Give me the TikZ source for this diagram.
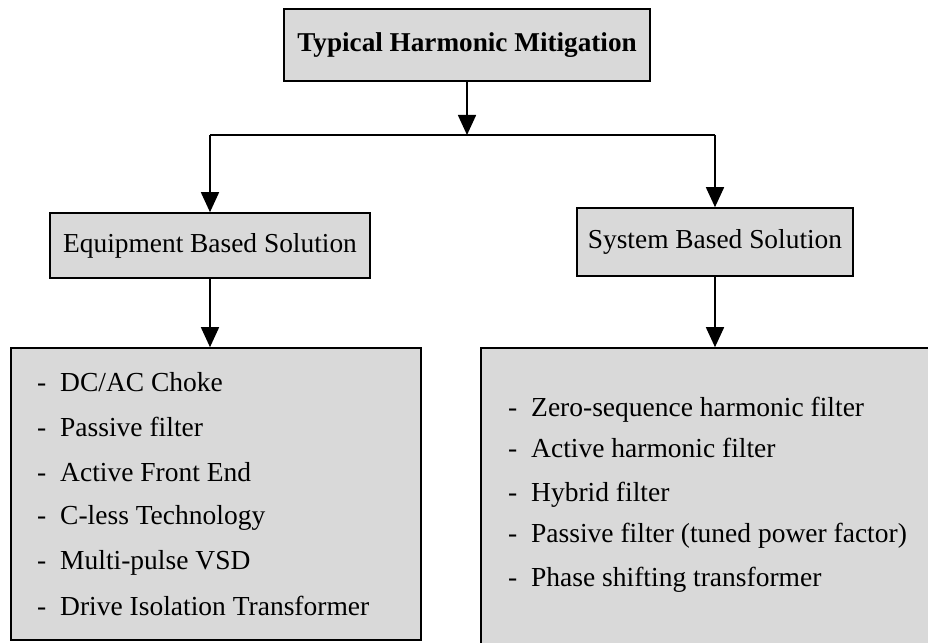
\documentclass[tikz,border=0pt]{standalone}
\usepackage{fontspec}
\setmainfont{Liberation Serif}
\usetikzlibrary{arrows.meta}
\definecolor{boxgray}{HTML}{D9D9D9}
\begin{document}
\begin{tikzpicture}[x=1pt,y=1pt,
  box/.style={draw=black, line width=1.6pt, fill=boxgray, inner sep=0pt, rectangle},
  item/.style={anchor=base west, inner sep=0pt, font=\fontsize{27.5}{33}\selectfont},
  conn/.style={line width=1.6pt, -{Triangle[width=18pt,length=20pt]}},
  plain/.style={line width=1.6pt},
]
\clip (0,0) rectangle (928,642);
\fill[white] (0,0) rectangle (928,642);
% boxes
\node[box, minimum width=366pt, minimum height=72pt, font=\bfseries\fontsize{27.2}{32}\selectfont] (top) at (467,597) {Typical Harmonic Mitigation};
\node[box, minimum width=320pt, minimum height=65pt, font=\fontsize{27.4}{32}\selectfont] (eq) at (210,396.5) {Equipment Based Solution};
\node[box, minimum width=276pt, minimum height=68pt, font=\fontsize{27.4}{32}\selectfont] (sys) at (715,400) {System Based Solution};
\node[box, minimum width=410pt, minimum height=292pt] (eqlist) at (216,148) {};
\node[box, minimum width=479pt, minimum height=332pt] (syslist) at (720.5,128) {};
% connectors
\coordinate (j) at (467,507);
\coordinate (jl) at (210,507);
\coordinate (jr) at (715,507);
\draw[conn] (top.south) -- (j);
\draw[plain] (jl) -- (jr);
\draw[conn] (jl) -- (eq.north -| jl);
\draw[conn] (jr) -- (sys.north -| jr);
\draw[conn] (eq.south) -- (eq.south |- eqlist.north);
\draw[conn] (sys.south) -- (sys.south |- syslist.north);
% left list
\foreach \y/\t [count=\i] in {250/{DC/AC Choke},205/{Passive filter},160/{Active Front End},117/{C-less Technology},72/{Multi-pulse VSD},27/{Drive Isolation Transformer}}{
  \node[item] (ld\i) at (37,\y) {-};
  \node[item] (lt\i) at (60,\y) {\t};
}
% right list
\foreach \y/\t [count=\i] in {225/{Zero-sequence harmonic filter},184/{Active harmonic filter},140/{Hybrid filter},99/{Passive filter (tuned power factor)},55/{Phase shifting transformer}}{
  \node[item] (rd\i) at (508,\y) {-};
  \node[item] (rt\i) at (531,\y) {\t};
}
\end{tikzpicture}
\end{document}
